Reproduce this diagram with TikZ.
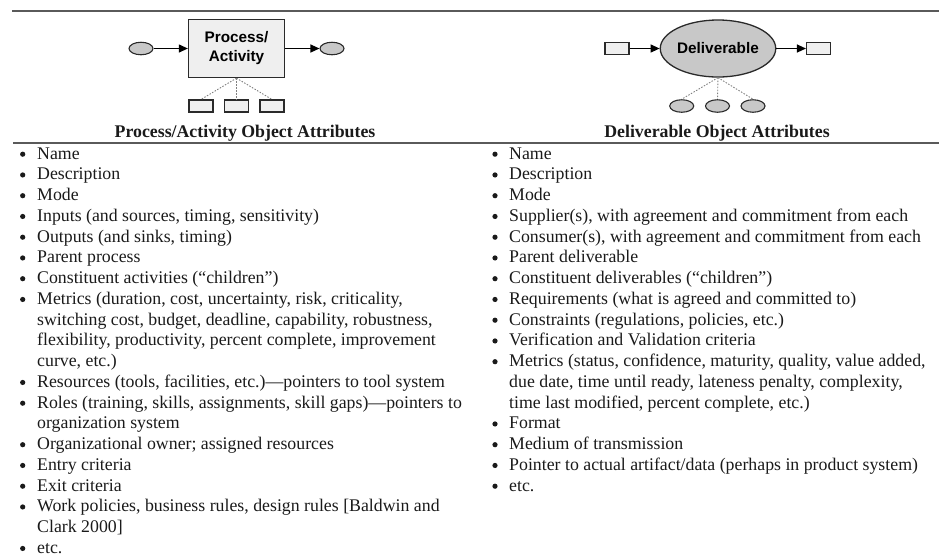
\documentclass[tikz,border=0pt]{standalone}
\usepackage{fontspec}
\setmainfont{Liberation Serif}
\newfontfamily\diagfont{Liberation Sans}
\usetikzlibrary{arrows.meta,shapes.geometric}
\definecolor{rulegray}{HTML}{5A5A5A}
\definecolor{edgegray}{HTML}{2A2A2A}
\definecolor{boxfill}{HTML}{EFEFEF}
\definecolor{ovalfill}{HTML}{C8C8C8}
\definecolor{txt}{HTML}{1A1A1A}
\begin{document}
\begin{tikzpicture}[x=1pt,y=-1pt,
  rulestyle/.style={draw=rulegray,line width=2pt},
  procbox/.style={draw=edgegray,fill=boxfill,line width=1.3pt,minimum width=96pt,minimum height=58pt,inner sep=0pt,align=center,font=\diagfont\bfseries\fontsize{15.3}{19}\selectfont},
  bigoval/.style={ellipse,draw=edgegray,fill=ovalfill,line width=1.3pt,minimum width=107pt,minimum height=57pt,inner sep=0pt,font=\diagfont\bfseries\fontsize{15.3}{19}\selectfont},
  smalloval/.style={ellipse,draw=edgegray,fill=ovalfill,line width=1.1pt,minimum width=24pt,minimum height=12.5pt,inner sep=0pt},
  smallbox/.style={draw=edgegray,fill=boxfill,line width=1.1pt,minimum width=24pt,minimum height=12pt,inner sep=0pt},
  arr/.style={-{Triangle[length=9pt,width=8pt]},line width=1.2pt,draw=black},
  dots/.style={draw=gray,line width=0.9pt,dash pattern=on 1.5pt off 1.5pt},
  head/.style={font=\bfseries\fontsize{17.8}{21}\selectfont,text=txt,inner sep=0pt,anchor=base},
  itemtext/.style={font=\fontsize{17.8}{20.8}\selectfont,text=txt,inner sep=0pt,anchor=base west},
]
\useasboundingbox (0,0) rectangle (939,558);

% rules
\coordinate (t1) at (12,10.7);
\coordinate (t2) at (939,10.7);
\coordinate (m1) at (13,142.7);
\coordinate (m2) at (939,142.7);
\draw[rulestyle] (t1) -- (t2);
\draw[rulestyle] (m1) -- (m2);

% left diagram
\node[procbox] (proc) at (236.5,48.5) {Process/\\Activity};
\node[smalloval] (pin) at (141,48.5) {};
\node[smalloval] (pout) at (332,48.5) {};
\draw[arr] (pin) -- (proc);
\draw[arr] (proc) -- (pout);
\node[smallbox] (pa1) at (201,106) {};
\node[smallbox] (pa2) at (236.5,106) {};
\node[smallbox] (pa3) at (272,106) {};
\draw[dots] (proc.south) -- (pa1.north);
\draw[dots] (proc.south) -- (pa2.north);
\draw[dots] (proc.south) -- (pa3.north);

% right diagram
\node[bigoval] (deliv) at (718,48.5) {Deliverable};
\node[smallbox] (din) at (617,48.5) {};
\node[smallbox] (dout) at (818.5,48.5) {};
\draw[arr] (din) -- (deliv);
\draw[arr] (deliv) -- (dout);
\node[smalloval] (da1) at (681.7,106) {};
\node[smalloval] (da2) at (717.5,106) {};
\node[smalloval] (da3) at (753,106) {};
\draw[dots] (deliv.south) -- (da1.north);
\draw[dots] (deliv.south) -- (da2.north);
\draw[dots] (deliv.south) -- (da3.north);

% headers
\node[head] (hl) at (245,137) {Process/Activity Object Attributes};
\node[head] (hr) at (717,137) {Deliverable Object Attributes};

% left list
\foreach \i/\t in {0/{Name},1/{Description},2/{Mode},
  3/{Inputs (and sources, timing, sensitivity)},
  4/{Outputs (and sinks, timing)},
  5/{Parent process},
  6/{Constituent activities (“children”)},
  7/{Metrics (duration, cost, uncertainty, risk, criticality,},
  8/{switching cost, budget, deadline, capability, robustness,},
  9/{flexibility, productivity, percent complete, improvement},
  10/{curve, etc.)},
  11/{Resources (tools, facilities, etc.)—pointers to tool system},
  12/{Roles (training, skills, assignments, skill gaps)—pointers to},
  13/{organization system},
  14/{Organizational owner; assigned resources},
  15/{Entry criteria},
  16/{Exit criteria},
  17/{Work policies, business rules, design rules [Baldwin and},
  18/{Clark 2000]},
  19/{etc.}}
  \node[itemtext] (L\i) at (37,{159+20.75*\i}) {\t};
\foreach \i in {0,1,2,3,4,5,6,7,11,12,14,15,16,17,19}
  \fill[txt] (22.7,{154.2+20.75*\i}) circle (2.6);

% right list
\foreach \i/\t in {0/{Name},1/{Description},2/{Mode},
  3/{Supplier(s), with agreement and commitment from each},
  4/{Consumer(s), with agreement and commitment from each},
  5/{Parent deliverable},
  6/{Constituent deliverables (“children”)},
  7/{Requirements (what is agreed and committed to)},
  8/{Constraints (regulations, policies, etc.)},
  9/{Verification and Validation criteria},
  10/{Metrics (status, confidence, maturity, quality, value added,},
  11/{due date, time until ready, lateness penalty, complexity,},
  12/{time last modified, percent complete, etc.)},
  13/{Format},
  14/{Medium of transmission},
  15/{Pointer to actual artifact/data (perhaps in product system)},
  16/{etc.}}
  \node[itemtext] (R\i) at (509,{159+20.75*\i}) {\t};
\foreach \i in {0,1,2,3,4,5,6,7,8,9,10,13,14,15,16}
  \fill[txt] (495,{154.2+20.75*\i}) circle (2.6);
\end{tikzpicture}
\end{document}
